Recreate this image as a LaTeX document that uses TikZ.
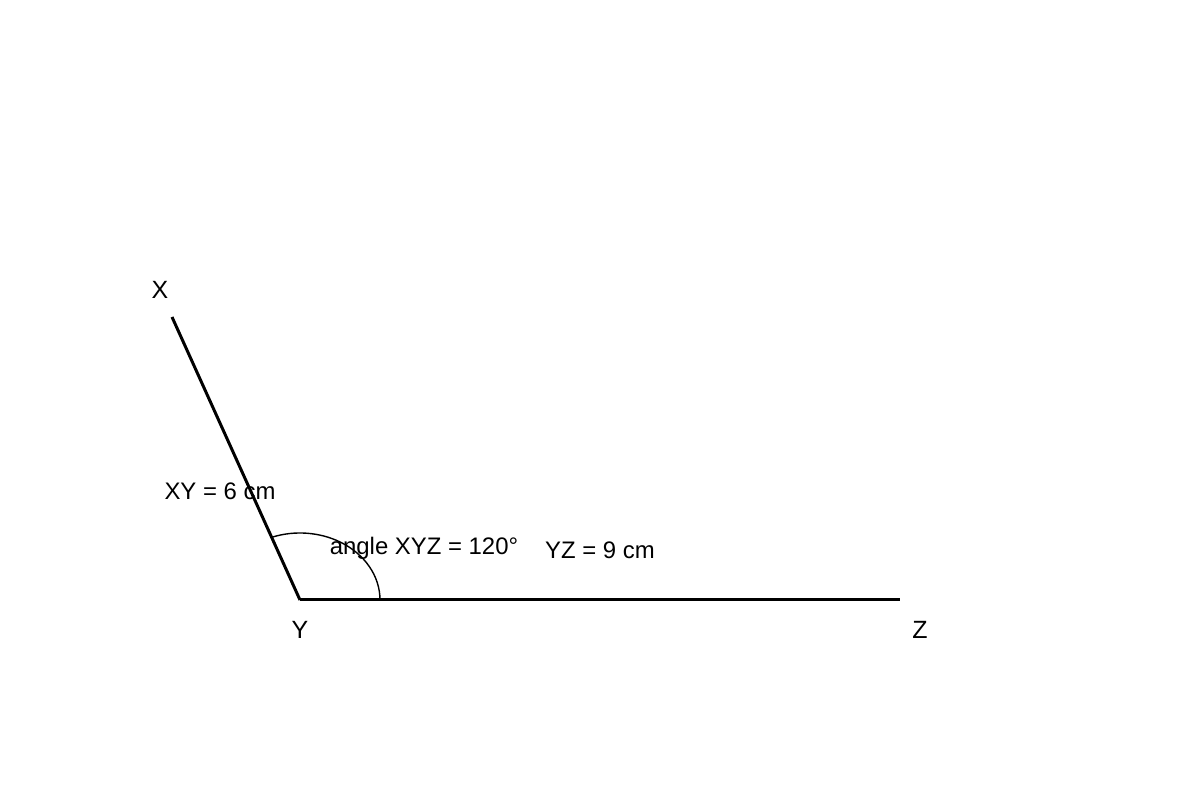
\documentclass[tikz,border=0pt]{standalone}
\usepackage{fontspec}
\setmainfont{Liberation Sans}
\begin{document}
\begin{tikzpicture}[
    side/.style={line width=0.85pt},
    lbl/.style={inner sep=0pt, anchor=base, font=\fontsize{6.8}{8}\selectfont},
    vtx/.style={lbl, font=\fontsize{7.1}{8.5}\selectfont}]
      \useasboundingbox (0,0) rectangle (12,8);
      \path
        (3,2) coordinate (Y)
        (1.72,4.83) coordinate (X)
        (9,2) coordinate (Z);
      \begin{scope}[side]
        \draw (Y) to (X);
        \draw (Y) to (Z);
      \end{scope}
      \draw[line width=0.4pt] ([xshift=0.8cm]Y) arc[start angle=0, end angle=110, x radius=0.8, y radius=0.67];
      \path
        (1.60,5.01) node[vtx] (xname){X}
        (3.00,1.61) node[vtx] (yname){Y}
        (9.20,1.61) node[vtx] (zname){Z}
        (2.20,3.00) node[lbl] (xy){XY = 6 cm}
        (4.24,2.45) node[lbl] (ang){angle XYZ = 120°}
        (6.00,2.41) node[lbl] (yz){YZ = 9 cm};
    \end{tikzpicture}
\end{document}
